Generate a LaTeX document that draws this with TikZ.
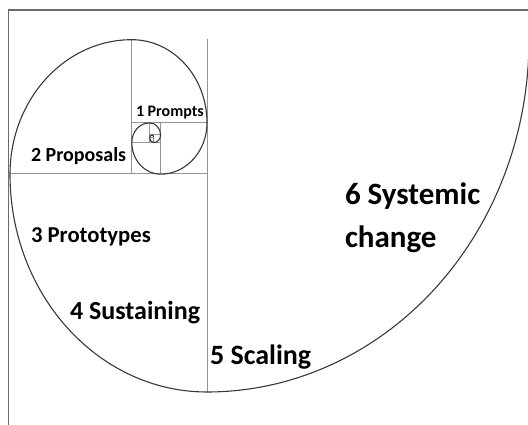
\documentclass[tikz,border=0pt]{standalone}
\usepackage{fontspec}
\setmainfont{Carlito}
\begin{document}
\begin{tikzpicture}[x=1pt,y=1pt,
  frameline/.style={draw=black!58,line width=1.6pt},
  gridline/.style={draw=black!42,line width=0.8pt},
  spiral/.style={draw=black!78,line width=1.1pt},
  lbl/.style={anchor=base west,inner sep=0pt,outer sep=0pt,font=\bfseries}]
\useasboundingbox (0,0) rectangle (528,425);
\clip (0,0) rectangle (528,425);
% frame
\draw[frameline] (8.3,-2) -- (8.3,415) -- (532,415);
% squares
\draw[gridline] (207,385.6) -- (207,33);
\draw[gridline] (10,251.1) -- (207,251.1);
\draw[gridline] (131.8,385.6) -- (131.8,251.1);
\draw[gridline] (131.8,302.5) -- (207,302.5);
\draw[gridline] (160.5,302.5) -- (160.5,251.1);
\draw[gridline] (131.8,282.8) -- (160.5,282.8);
\draw[gridline] (149.6,302.5) -- (149.6,282.8);
\draw[gridline] (149.6,290.4) -- (160.5,290.4);
\draw[gridline] (153.7,290.4) -- (153.7,282.8);
\draw[gridline] (149.6,287.4) -- (153.7,287.4);
% spiral
\draw[spiral] (207,33) arc[start angle=-90,end angle=2,x radius=322pt,y radius=352pt];
\draw[spiral] (207,33)
  arc[start angle=-90,end angle=-180,x radius=197pt,y radius=217.7pt]
  arc[start angle=180,end angle=90,x radius=121.8pt,y radius=134.6pt]
  arc[start angle=90,end angle=0,x radius=75.2pt,y radius=83.1pt]
  arc[start angle=0,end angle=-90,x radius=46.5pt,y radius=51.4pt]
  arc[start angle=-90,end angle=-180,x radius=28.7pt,y radius=31.7pt]
  arc[start angle=180,end angle=90,x radius=17.8pt,y radius=19.6pt]
  arc[start angle=90,end angle=0,x radius=11.0pt,y radius=12.1pt]
  arc[start angle=0,end angle=-90,x radius=6.8pt,y radius=7.5pt]
  arc[start angle=-90,end angle=-180,x radius=4.2pt,y radius=4.6pt]
  arc[start angle=180,end angle=90,x radius=2.6pt,y radius=2.9pt]
  arc[start angle=90,end angle=0,x radius=1.6pt,y radius=1.8pt];
% labels
\node[lbl,font=\bfseries\fontsize{16}{18}\selectfont] (p1) at (136,308) {1 Prompts};
\node[lbl,font=\bfseries\fontsize{20}{22}\selectfont] (p2) at (31,263) {2 Proposals};
\node[lbl,font=\bfseries\fontsize{22.7}{25}\selectfont] (p3) at (31,182) {3 Prototypes};
\node[lbl,font=\bfseries\fontsize{26}{28}\selectfont] (p4) at (70,105) {4 Sustaining};
\node[lbl,font=\bfseries\fontsize{28}{30}\selectfont] (p5) at (210,60) {5 Scaling};
\node[lbl,font=\bfseries\fontsize{31}{33}\selectfont] (p6) at (345,220) {6 Systemic};
\node[lbl,font=\bfseries\fontsize{31}{33}\selectfont] (p6b) at (345,177) {change};
\end{tikzpicture}
\end{document}
